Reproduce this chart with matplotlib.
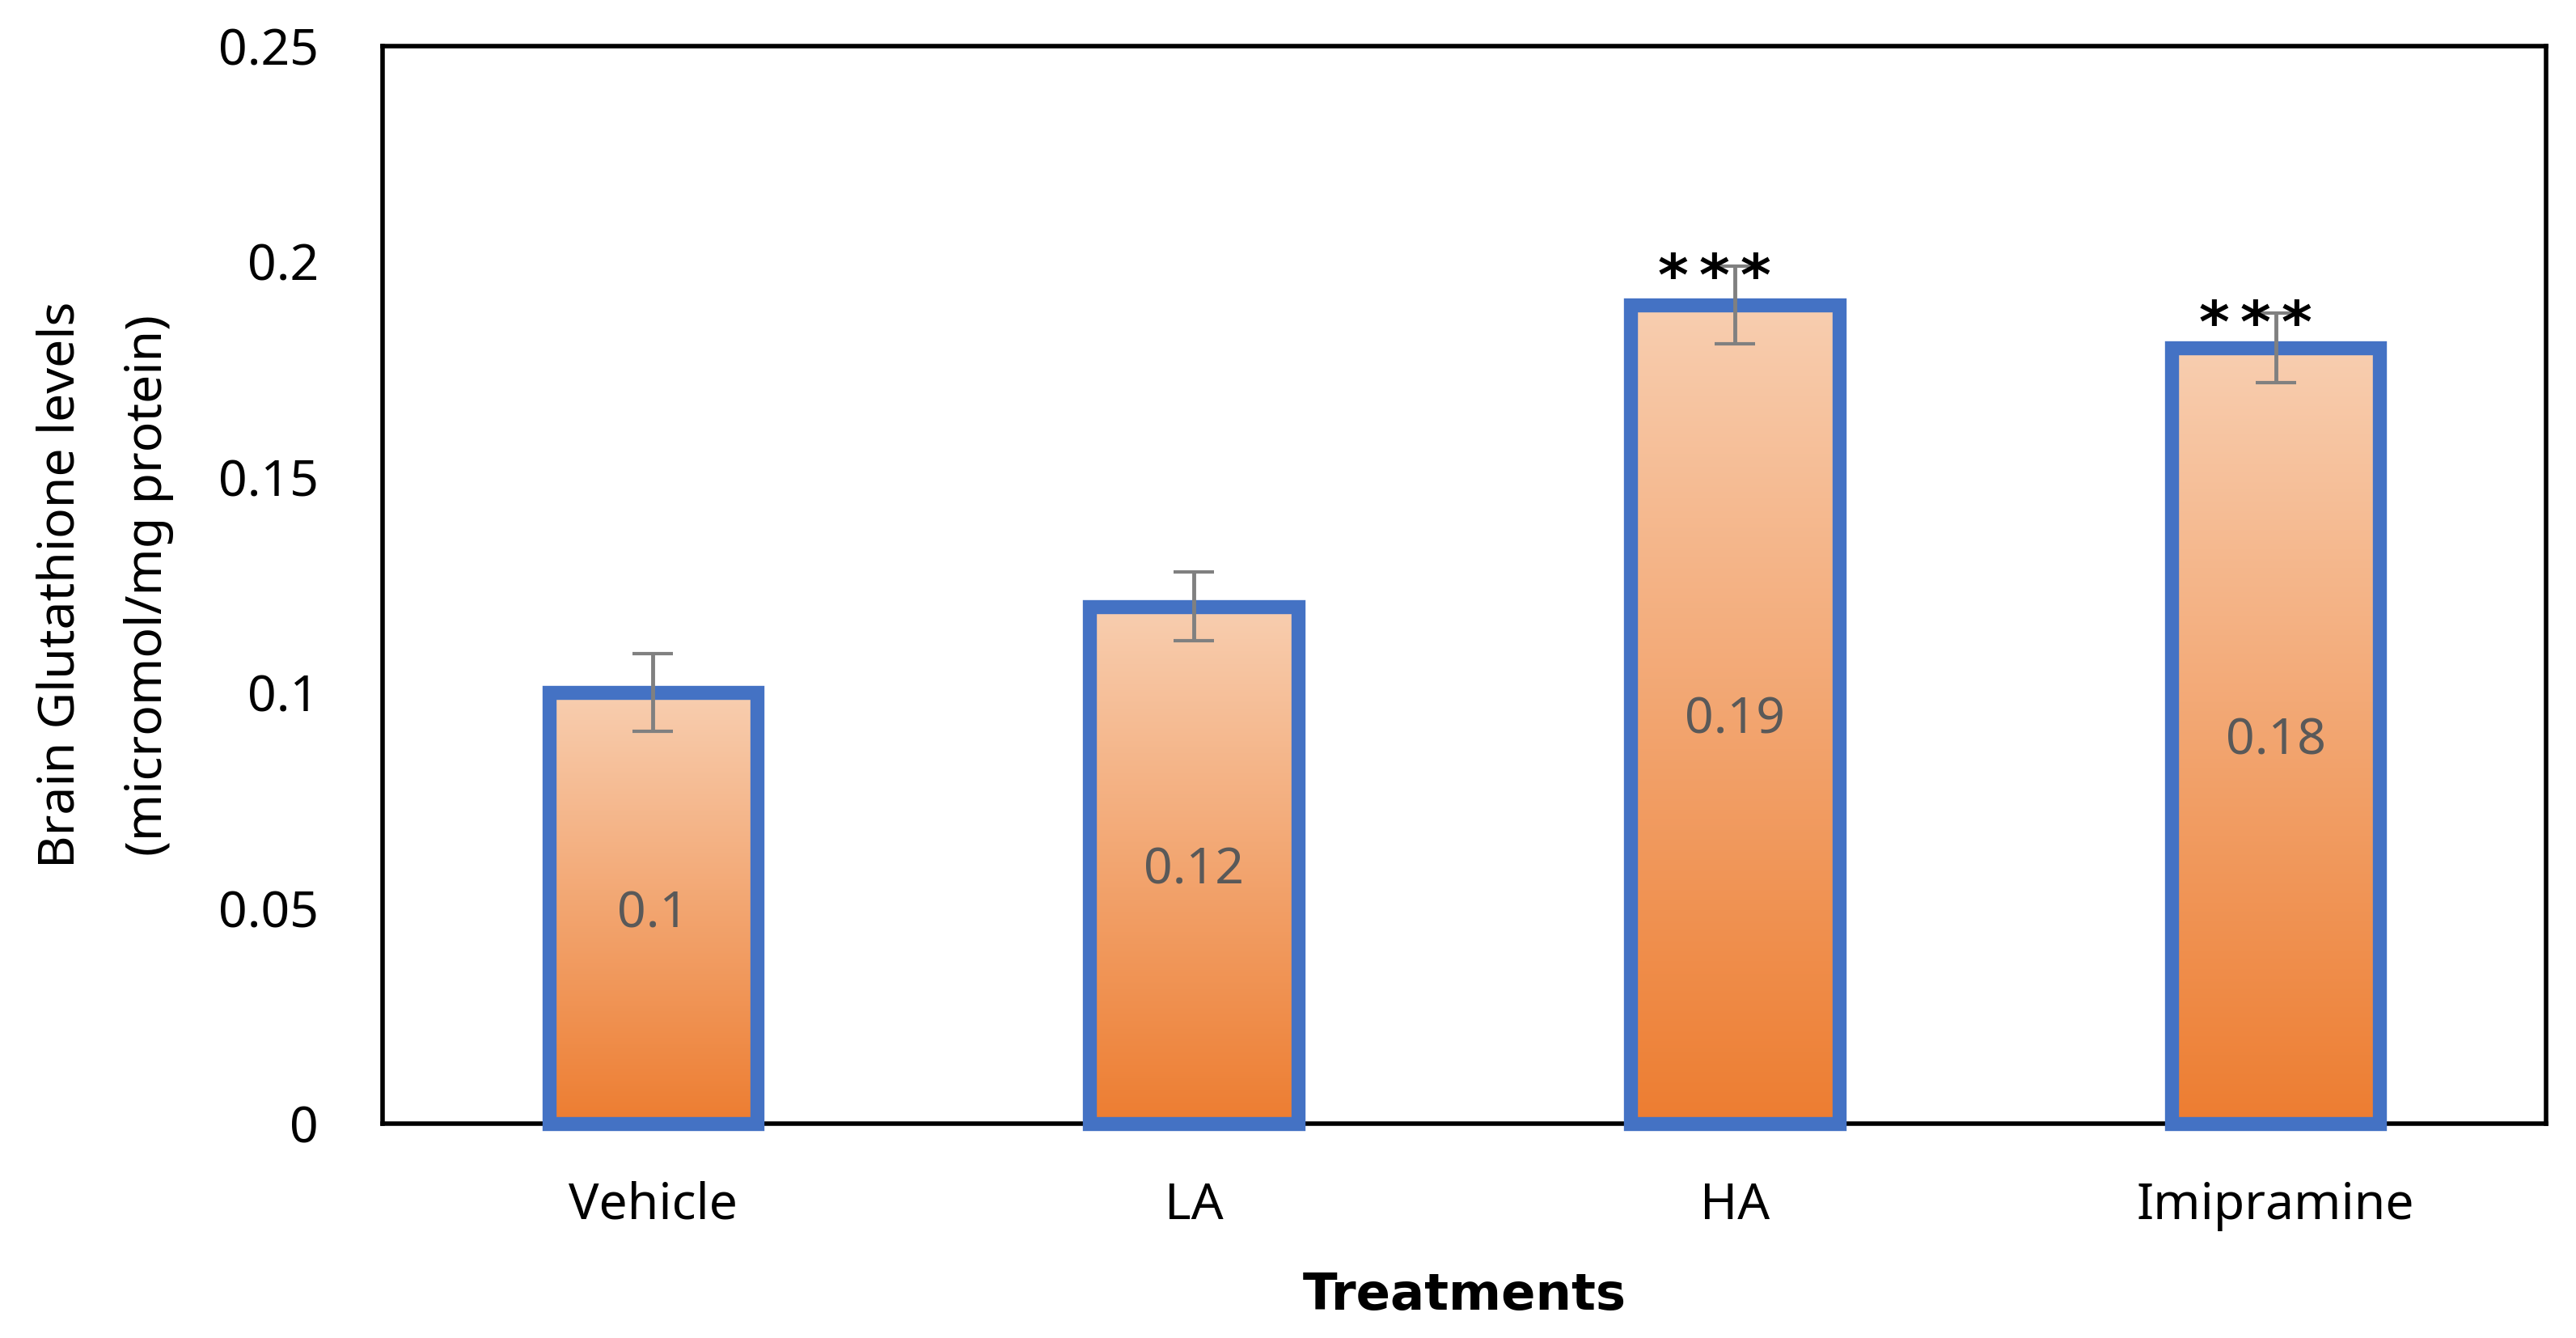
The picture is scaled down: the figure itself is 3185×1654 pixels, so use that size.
import numpy as np
import matplotlib
matplotlib.use("Agg")
import matplotlib.pyplot as plt
from matplotlib.colors import to_rgb

plt.rcParams["font.family"] = ["Noto Sans", "DejaVu Sans"]

# =========================================================
# DATA
# =========================================================
treatments = ["Vehicle", "LA", "HA", "Imipramine"]
glutathione = [0.10, 0.12, 0.19, 0.18]
sem = [0.009, 0.008, 0.009, 0.008]
significance = ["", "", "***", "***"]
y_ticks = [0, 0.05, 0.1, 0.15, 0.2, 0.25]
y_tick_labels = ["0", "0.05", "0.1", "0.15", "0.2", "0.25"]

# =========================================================
# STYLE
# =========================================================
W, H, DPI = 3185, 1654, 100
top_color = np.array(to_rgb("#F8CEB0"))
bottom_color = np.array(to_rgb("#ED7D31"))
edge_color = "#4472C4"
bar_width = 0.385
fs = 45
bold_family = ["DejaVu Sans"]
star_pitch = 51  # px between asterisks

fig = plt.figure(figsize=(W / DPI, H / DPI), dpi=DPI)
ax = fig.add_axes([473 / W, 1 - 1389 / H, (3148 - 473) / W, (1389 - 57) / H])

x = np.arange(len(treatments))

bars = ax.bar(x, glutathione, width=bar_width, color="none",
              edgecolor=edge_color, linewidth=12.5, zorder=3, clip_on=False)

# gradient fill inside every bar (light at top, orange at bottom)
grad = np.linspace(0, 1, 256)[:, None]
grad_img = top_color[None, None, :] * (1 - grad[..., None]) + bottom_color[None, None, :] * grad[..., None]
for b, v in zip(bars, glutathione):
    x0 = b.get_x()
    im = ax.imshow(grad_img, extent=(x0, x0 + b.get_width(), 0, v),
                   aspect="auto", origin="upper", zorder=2, interpolation="bilinear")
    im.set_clip_path(b)

ax.errorbar(x, glutathione, yerr=sem, fmt="none", ecolor="#808080",
            elinewidth=3.5, capsize=18, capthick=3, zorder=4)

for xi, v, e, s in zip(x, glutathione, sem, significance):
    ax.text(xi, v / 2, f"{v:g}", ha="center", va="center_baseline",
            color="#595959", fontsize=fs, zorder=5)
    n = len(s)
    for k, ch in enumerate(s):
        dx = -25 + star_pitch * (k - (n - 1) / 2)
        ax.annotate(ch, xy=(xi, v + e), xytext=(dx, -36), textcoords="offset pixels",
                    ha="center", va="baseline", fontsize=52, fontweight="bold",
                    family=bold_family, color="black", zorder=6)

# =========================================================
# AXES
# =========================================================
ax.set_xlim(-0.5, len(treatments) - 0.5)
ax.set_ylim(0, 0.25)
ax.set_xticks(x)
ax.set_xticklabels(treatments)
ax.set_yticks(y_ticks)
ax.set_yticklabels(y_tick_labels)
ax.tick_params(axis="both", length=0, labelsize=fs, colors="black")
ax.tick_params(axis="y", pad=57)
ax.tick_params(axis="x", pad=51)

for sp in ax.spines.values():
    sp.set_linewidth(4)
    sp.set_color("black")

ax.set_xlabel("Treatments", fontsize=fs, fontweight="bold", family=bold_family,
              labelpad=36)
ax.set_ylabel("Brain Glutathione levels\n(micromol/mg protein)", fontsize=fs,
              linespacing=2.0)
ax.yaxis.label.set_va("center")
ax.yaxis.set_label_coords((130 - 473) / (3148 - 473), 0.5)

fig.savefig("out.png", dpi=DPI)
